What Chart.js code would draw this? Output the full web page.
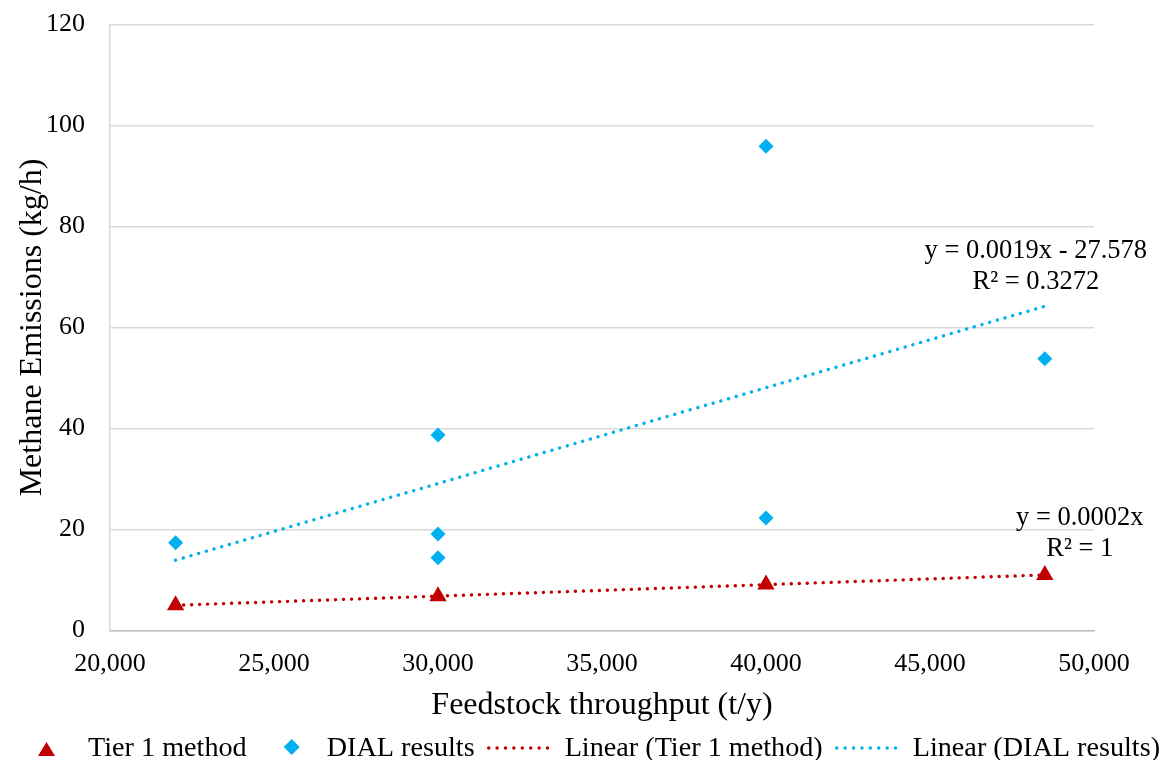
<!DOCTYPE html>
<html>
<head>
<meta charset="utf-8">
<title>Methane emissions vs feedstock throughput</title>
<script src="https://cdn.jsdelivr.net/npm/chart.js@4.4.1/dist/chart.umd.min.js"></script>
<style>
html,body{margin:0;padding:0;background:#fff}
#wrap{position:relative;width:1160px;height:760px}
</style>
</head>
<body>
<div id="wrap"><canvas id="chartCanvas"></canvas></div>
<script>
// plant throughput (t/y) and methane emission rates (kg/h)
var tierX=[22000,30000,40000,48500]
var tierY=[5.0,6.8,9.1,11.0]
var dialX=[22000,30000,30000,30000,40000,40000,48500]
var dialY=[17.4,38.7,19.1,14.4,95.9,22.3,53.8]

var xTicks=[20000,25000,30000,35000,40000,45000,50000]
var yTicks=[0,20,40,60,80,100,120]

var tierEq=['y = 0.0002x','R\u00b2 = 1']
var dialEq=['y = 0.0019x - 27.578','R\u00b2 = 0.3272']

var RED='#C00000'
var BLUE='#00B0F0'
var FONT='"Liberation Serif", "Times New Roman", serif'
var DOTS=[0.1,7.9]

function toPoints(xs,ys){
	return xs.map(function(x,i){ return {x:x,y:ys[i]} })
}

// least squares line over the data range
function trend(xs,ys){
	var n=xs.length,sx=0,sy=0,sxx=0,sxy=0
	for(var i=0;i<n;i++){ sx+=xs[i]; sy+=ys[i]; sxx+=xs[i]*xs[i]; sxy+=xs[i]*ys[i] }
	var b=(n*sxy-sx*sy)/(n*sxx-sx*sx)
	var a=(sy-b*sx)/n
	var lo=Math.min.apply(null,xs),hi=Math.max.apply(null,xs)
	return [{x:lo,y:a+b*lo},{x:hi,y:a+b*hi}]
}

// equation + R² next to the end of each trend line
var eqLabels={
	id:'eqLabels',
	afterDatasetsDraw:function(chart){
		var ctx=chart.ctx,xs=chart.scales.x,ys=chart.scales.y
		ctx.save()
		ctx.font='26.5px '+FONT
		ctx.fillStyle='#000'
		ctx.textAlign='center'
		ctx.textBaseline='middle'
		var d=chart.data.datasets[3].data[1]
		var px=xs.getPixelForValue(d.x),py=ys.getPixelForValue(d.y)
		ctx.fillText(dialEq[0],px-9,py-55)
		ctx.fillText(dialEq[1],px-9,py-24)
		var t=chart.data.datasets[2].data[1]
		px=xs.getPixelForValue(t.x);py=ys.getPixelForValue(t.y)
		ctx.fillText(tierEq[0],px+35,py-57)
		ctx.fillText(tierEq[1],px+35,py-26)
		ctx.restore()
	}
}

// one-row legend along the bottom edge
var bottomLegend={
	id:'bottomLegend',
	afterDraw:function(chart){
		var ctx=chart.ctx
		var items=[
			{kind:'triangle',color:RED,text:'Tier 1 method',lead:0,slot:17,gap:33},
			{kind:'diamond',color:BLUE,text:'DIAL results',lead:37,slot:16,gap:27},
			{kind:'line',color:RED,text:'Linear (Tier 1 method)',lead:12,slot:69,gap:9},
			{kind:'line',color:BLUE,text:'Linear (DIAL results)',lead:12,slot:69,gap:9}
		]
		ctx.save()
		ctx.font='28.2px '+FONT
		var x=38,ty=756
		items.forEach(function(it){
			var w=ctx.measureText(it.text).width
			x+=it.lead
			var cx=x+it.slot/2
			ctx.fillStyle=it.color
			ctx.strokeStyle=it.color
			ctx.beginPath()
			if(it.kind=='triangle'){
				ctx.moveTo(cx,742);ctx.lineTo(cx+8.5,756);ctx.lineTo(cx-8.5,756);ctx.closePath();ctx.fill()
			}else if(it.kind=='diamond'){
				ctx.moveTo(cx,739);ctx.lineTo(cx+8,747);ctx.lineTo(cx,755);ctx.lineTo(cx-8,747);ctx.closePath();ctx.fill()
			}else{
				ctx.lineWidth=3.4
				ctx.lineCap='round'
				ctx.setLineDash([0.1,8.3])
				ctx.moveTo(x+2,748);ctx.lineTo(x+it.slot,748);ctx.stroke()
				ctx.setLineDash([])
			}
			x+=it.slot+it.gap
			ctx.fillStyle='#000'
			ctx.textAlign='left'
			ctx.textBaseline='alphabetic'
			ctx.fillText(it.text,x,ty)
			x+=w
		})
		ctx.restore()
	}
}

var ctx=document.getElementById('chartCanvas').getContext('2d')

new Chart(ctx,{
	type:'scatter',
	data:{
		datasets:[
		{
			label:'Tier 1 method',
			data:toPoints(tierX,tierY),
			pointStyle:'triangle',
			pointRadius:10,
			backgroundColor:RED,
			borderWidth:0,
			order:2
		},
		{
			label:'DIAL results',
			data:toPoints(dialX,dialY),
			pointStyle:'rectRot',
			pointRadius:7.5,
			backgroundColor:BLUE,
			borderWidth:0,
			order:3
		},
		{
			label:'Linear (Tier 1 method)',
			type:'line',
			data:trend(tierX,tierY),
			borderColor:RED,
			borderWidth:3.4,
			borderDash:DOTS,
			borderCapStyle:'round',
			pointRadius:0,
			fill:false,
			order:1
		},
		{
			label:'Linear (DIAL results)',
			type:'line',
			data:trend(dialX,dialY),
			borderColor:BLUE,
			borderWidth:3.4,
			borderDash:DOTS,
			borderCapStyle:'round',
			pointRadius:0,
			fill:false,
			order:1
		}
		]
	},
	options:{
		responsive:true,
		maintainAspectRatio:false,
		animation:false,
		layout:{padding:{top:24.5,right:66,bottom:35,left:0}},
		scales:{
			x:{
				type:'linear',
				min:20000,max:50000,
				afterBuildTicks:function(s){ s.ticks=xTicks.map(function(v){return {value:v}}) },
				afterFit:function(s){ s.height=94.5; s.paddingLeft=0; s.paddingRight=0 },
				grid:{display:false},
				border:{display:true,color:'#BFBFBF',width:1.5},
				ticks:{
					padding:10.5,
					color:'#000',
					font:{family:FONT,size:26},
					maxRotation:0,
					callback:function(v){ return v.toLocaleString('en-US') }
				},
				title:{
					display:true,
					text:'Feedstock throughput (t/y)',
					color:'#000',
					font:{family:FONT,size:32},
					padding:{top:0,bottom:0}
				}
			},
			y:{
				min:0,max:120,
				afterBuildTicks:function(s){ s.ticks=yTicks.map(function(v){return {value:v}}) },
				afterFit:function(s){ s.width=110; s.paddingTop=0; s.paddingBottom=0 },
				grid:{color:'#D9D9D9',lineWidth:1.5,drawTicks:false},
				border:{display:true,color:'#D9D9D9',width:1.5},
				ticks:{
					padding:25,
					color:'#000',
					font:{family:FONT,size:26}
				},
				title:{
					display:true,
					text:'Methane Emissions (kg/h)',
					color:'#000',
					font:{family:FONT,size:32},
					padding:{top:13,bottom:0}
				}
			}
		},
		plugins:{
			tooltip:{enabled:false},
			legend:{display:false}
		}
	},
	plugins:[eqLabels,bottomLegend]
})
</script>
</body>
</html>
